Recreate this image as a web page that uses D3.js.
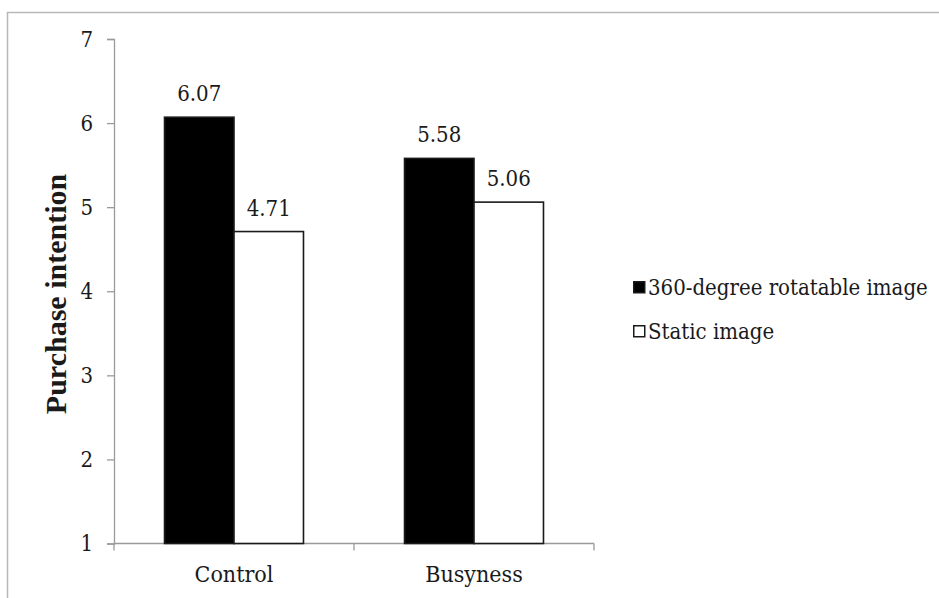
<!DOCTYPE html>
<html>
<head>
<meta charset="utf-8">
<script src="https://cdn.jsdelivr.net/npm/d3@7"></script>
<style>
  html, body { margin: 0; padding: 0; background: #fff; }
  svg { display: block; }
  text { fill: #1a1a1a; font-family: "DejaVu Serif Condensed", "DejaVu Serif", serif; font-stretch: condensed; }
  text.title { font-family: "Liberation Serif", "Times New Roman", serif; font-weight: bold; font-stretch: normal; }
</style>
</head>
<body>
<svg id="chart" width="939" height="598"></svg>
<script>
// Mean purchase intention by condition and image type
const categories = ["Control", "Busyness"];
const seriesNames = ["360-degree rotatable image", "Static image"];
const rotatableValues = [6.07, 5.58];
const staticValues = [4.71, 5.06];
const yTicks = [1, 2, 3, 4, 5, 6, 7];
const yTitle = "Purchase intention";

const fills = ["#000000", "#ffffff"];
const seriesValues = [rotatableValues, staticValues];

const svg = d3.select("#chart");

// Outer frame: top and left edges
svg.append("path")
  .attr("d", "M7.5,598 V12.5 H939")
  .attr("fill", "none")
  .attr("stroke", "#b8b8b8")
  .attr("stroke-width", 1.5);

const plot = { left: 114, right: 594, top: 39, bottom: 543.5 };

const y = d3.scaleLinear().domain([1, 7]).range([plot.bottom, plot.top]);
const x0 = d3.scaleBand().domain(categories).range([plot.left, plot.right]).padding(0);
const x1 = d3.scaleBand().domain(seriesNames).range([0, x0.bandwidth()])
  .paddingInner(0).paddingOuter(0.727);

// Y axis
const yAxis = svg.append("g")
  .attr("transform", `translate(${plot.left},0)`)
  .call(d3.axisLeft(y).tickValues(yTicks).tickFormat(d3.format("d")).tickSize(7).tickPadding(14));
yAxis.attr("font-family", null);
yAxis.select(".domain").attr("stroke", "#9a9a9a").attr("stroke-width", 1.3);
yAxis.selectAll(".tick line").attr("stroke", "#9a9a9a").attr("stroke-width", 1.3);
yAxis.selectAll(".tick text")
  .attr("font-size", 22)
  .attr("fill", "#1a1a1a");

// X axis: baseline with downward group dividers
const xAxis = svg.append("g");
xAxis.append("line")
  .attr("x1", plot.left).attr("x2", plot.right)
  .attr("y1", plot.bottom).attr("y2", plot.bottom)
  .attr("stroke", "#9a9a9a").attr("stroke-width", 1.3);
const dividers = [plot.left].concat(categories.map(c => x0(c) + x0.bandwidth()));
xAxis.selectAll("line.div").data(dividers).join("line")
  .attr("class", "div")
  .attr("x1", d => d).attr("x2", d => d)
  .attr("y1", plot.bottom).attr("y2", plot.bottom + 7)
  .attr("stroke", "#9a9a9a").attr("stroke-width", 1.3);
xAxis.selectAll("text").data(categories).join("text")
  .attr("x", d => x0(d) + x0.bandwidth() / 2)
  .attr("y", 582)
  .attr("text-anchor", "middle")
  .attr("font-size", 23)
  .text(d => d);

// Bars with value labels
const groups = svg.selectAll("g.group").data(categories).join("g")
  .attr("class", "group")
  .attr("transform", d => `translate(${x0(d)},0)`);

groups.each(function(cat, ci) {
  const g = d3.select(this);
  seriesNames.forEach((s, si) => {
    const v = seriesValues[si][ci];
    g.append("rect")
      .attr("x", x1(s))
      .attr("y", y(v))
      .attr("width", x1.bandwidth())
      .attr("height", y(1) - y(v))
      .attr("fill", fills[si])
      .attr("stroke", "#1a1a1a")
      .attr("stroke-width", 1.6);
    g.append("text")
      .attr("x", x1(s) + x1.bandwidth() / 2)
      .attr("y", y(v) - 16)
      .attr("text-anchor", "middle")
      .attr("font-size", 22)
      .text(v.toFixed(2));
  });
});

// Y axis title
svg.append("text")
  .attr("class", "title")
  .attr("transform", `translate(66,294) rotate(-90)`)
  .attr("text-anchor", "middle")
  .attr("font-size", 30)
  .text(yTitle);

// Legend
const legend = svg.append("g").attr("transform", "translate(633,281)");
seriesNames.forEach((s, i) => {
  const row = legend.append("g").attr("transform", `translate(0,${i * 44})`);
  row.append("rect")
    .attr("x", 0.75).attr("y", 0.75)
    .attr("width", 11).attr("height", 11)
    .attr("fill", fills[i])
    .attr("stroke", "#1a1a1a")
    .attr("stroke-width", 1.5);
  row.append("text")
    .attr("x", 15)
    .attr("y", 14)
    .attr("font-size", 22)
    .text(s);
});
</script>
</body>
</html>
